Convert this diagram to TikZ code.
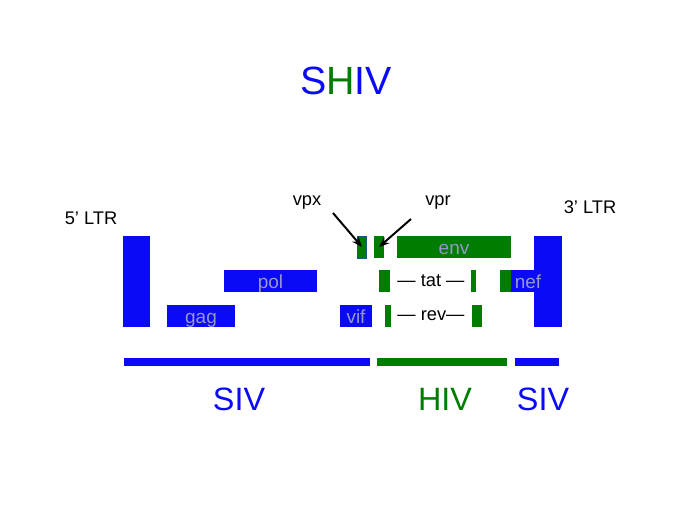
\documentclass[tikz,border=0pt]{standalone}
\usepackage{fontspec}
\setmainfont{Liberation Sans}
\usetikzlibrary{arrows.meta}
\definecolor{sivbiru}{RGB}{10,10,245}
\definecolor{hivhijau}{RGB}{0,125,0}
\definecolor{labelabu}{RGB}{150,150,205}
\definecolor{tepivpx}{RGB}{20,90,130}

\begin{document}
\begin{tikzpicture}[x=0.025cm, y=-0.025cm, font=\fontsize{13}{15}\selectfont,
        gen/.style={inner sep=0pt, minimum height=0.55cm, text=labelabu,
                    text height=0.47cm, text depth=0.08cm,
                    font=\fontsize{13.5}{15}\selectfont},
        sivgen/.style={gen, fill=sivbiru},
        hivgen/.style={gen, fill=hivhijau},
        bar/.style={inner sep=0pt, minimum height=0.2cm},
        panah/.style={-{Stealth[length=2.6mm, width=2mm]}, line width=1.4pt}
    ]
        \useasboundingbox (0,0) rectangle (689,517);

        \node (judul) at (346,81) {\fontsize{28}{30}\selectfont
            \textcolor{sivbiru}{S}\textcolor{hivhijau}{H}\textcolor{sivbiru}{IV}};

        % LTR
        \node[sivgen, minimum width=0.675cm, text height=0pt, text depth=0pt, minimum height=2.275cm] (ltrkiri)  at (136.5,281.5) {};
        \node[sivgen, minimum width=0.7cm,   text height=0pt, text depth=0pt, minimum height=2.275cm] (ltrkanan) at (548,281.5)   {};
        \node (ltrkirilbl)  at (91,218)  {5’ LTR};
        \node (ltrkananlbl) at (590,207) {3’ LTR};

        % gen SIV
        \node[sivgen, minimum width=1.7cm]   (gag) at (201,316)   {gag};
        \node[sivgen, minimum width=2.325cm] (pol) at (270.5,281) {pol};
        \node[sivgen, minimum width=0.8cm]   (vif) at (356,316)   {vif};
        \node[hivgen, draw=tepivpx, line width=0.5pt, minimum width=0.23cm, minimum height=0.53cm] (vpx) at (362,247) {};

        % gen HIV
        \node[hivgen, minimum width=0.25cm]  (vpr)  at (379,247)   {};
        \node[hivgen, minimum width=2.85cm]  (env)  at (454,247)   {env};
        \node[hivgen, minimum width=0.275cm] (tat1) at (384.5,281) {};
        \node[hivgen, minimum width=0.14cm]  (tat2) at (473.5,281) {};
        \node[hivgen, minimum width=0.15cm]  (rev1) at (388,316)   {};
        \node[hivgen, minimum width=0.25cm]  (rev2) at (477,316)   {};
        \node (tatlbl) at (431,281) {— tat —};
        \node (revlbl) at (431,316) {— rev—};
        \node[hivgen, minimum width=0.275cm] (nefhiv) at (505.5,281) {};
        \node[sivgen, minimum width=0.85cm]  (nef)    at (528,281)   {nef};

        % vpx, vpr
        \node (vpxlbl) at (307,202) {vpx};
        \node (vprlbl) at (438,202) {vpr};
        \coordinate (vpxekor) at (333,213);
        \coordinate (vprekor) at (411,219);
        \draw[panah] (vpxekor) -- (vpx.center);
        \draw[panah] (vprekor) -- (vpr.center);

        % asal genom
        \node[bar, fill=sivbiru,  minimum width=6.15cm] (barsiv1) at (247,362) {};
        \node[bar, fill=hivhijau, minimum width=3.25cm] (barhiv)  at (442,362) {};
        \node[bar, fill=sivbiru,  minimum width=1.1cm]  (barsiv2) at (537,362) {};
        \node[text=sivbiru,  font=\fontsize{23}{25}\selectfont] (siv1) at (239,399) {SIV};
        \node[text=hivhijau, font=\fontsize{23}{25}\selectfont] (hiv)  at (445,399) {HIV};
        \node[text=sivbiru,  font=\fontsize{23}{25}\selectfont] (siv2) at (543,399) {SIV};
    \end{tikzpicture}
\end{document}
